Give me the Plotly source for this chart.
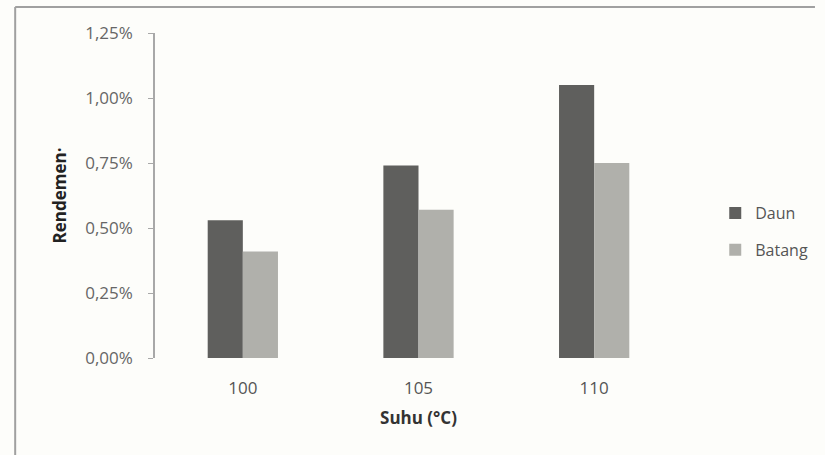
import plotly.graph_objects as go

# Rendemen per suhu pengeringan
suhu = ["100", "105", "110"]
daun = [0.53, 0.74, 1.05]
batang = [0.41, 0.57, 0.75]

y_ticks = [0.0, 0.25, 0.5, 0.75, 1.0, 1.25]
y_tick_labels = ["0,00%", "0,25%", "0,50%", "0,75%", "1,00%", "1,25%"]

W, H = 825, 455
L, R, T, B = 155, 131, 33, 97
pw, ph = W - L - R, H - T - B

def px_x(x):
    return (x - L) / pw

def px_y(y):
    return (H - B - y) / ph

font = "Open Sans, Liberation Sans, sans-serif"
bg = "#fdfdfa"

fig = go.Figure()
fig.add_trace(go.Bar(x=suhu, y=daun, name="Daun", marker_color="#5f5f5d",
                     marker_line_width=0, legendgroup="a"))
fig.add_trace(go.Bar(x=suhu, y=batang, name="Batang", marker_color="#b0b0ab",
                     marker_line_width=0, legendgroup="b"))

fig.update_layout(
    width=W, height=H,
    margin=dict(l=L, r=R, t=T, b=B),
    paper_bgcolor=bg, plot_bgcolor=bg,
    barmode="group", bargap=0.6, bargroupgap=0,
    font=dict(family=font, size=17, color="#555555"),
    showlegend=True,
    legend=dict(x=px_x(728), y=px_y(196), xanchor="left", yanchor="top",
                bgcolor="rgba(0,0,0,0)", traceorder="grouped",
                tracegroupgap=13, itemwidth=30,
                font=dict(size=16, color="#555555")),
    xaxis=dict(showline=False, ticks="", showgrid=False,
               ticklabelstandoff=18,
               tickfont=dict(size=17, color="#555555"),
               title=dict(text="<b>Suhu (°C)</b>", standoff=14,
                          font=dict(size=17, color="#333333"))),
    yaxis=dict(range=[0, 1.25], tickvals=y_ticks, ticktext=y_tick_labels,
               showline=True, linecolor="#a8a8a8", linewidth=1.5,
               ticks="outside", ticklen=5, tickcolor="#a8a8a8",
               ticklabelstandoff=12,
               showgrid=False, zeroline=False,
               tickfont=dict(size=17, color="#666666"),
               title=dict(text="<b>Rendemen·</b>", standoff=14,
                          font=dict(size=17, color="#222222"))),
)

# Bingkai luar (garis atas dan kiri)
fig.add_shape(type="line", xref="paper", yref="paper",
              x0=px_x(12), x1=px_x(W + 5), y0=px_y(7), y1=px_y(7),
              line=dict(color="#a0a0a0", width=2))
fig.add_shape(type="line", xref="paper", yref="paper",
              x0=px_x(12), x1=px_x(12), y0=px_y(7), y1=px_y(H + 5),
              line=dict(color="#a0a0a0", width=2))

fig.write_html("out.html")
